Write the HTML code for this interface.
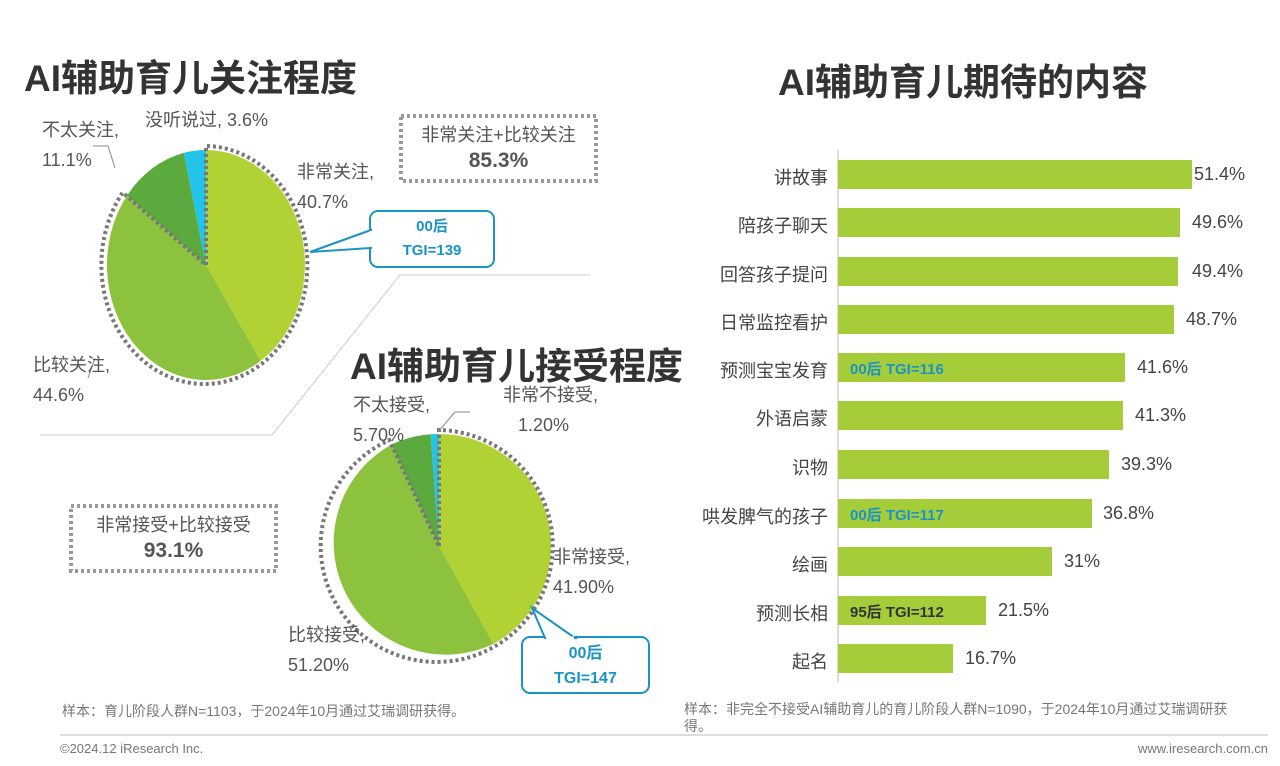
<!DOCTYPE html>
<html><head><meta charset="utf-8"><style>
body{margin:0;width:1280px;height:766px;background:#fff;position:relative;overflow:hidden;font-family:"Liberation Sans","Noto Sans CJK SC",sans-serif;color:#444}
.a{position:absolute;white-space:nowrap}
.t{font-size:37px;font-weight:bold;color:#333}
.l{font-size:18px;color:#555;line-height:30px}
.bar{position:absolute;left:838px;height:29px;background:#a5cd39}
.bl{position:absolute;right:452px;font-size:18px;color:#444;text-align:right}
.bv{position:absolute;font-size:18px;color:#444}
.tg{position:absolute;left:850px;font-size:15px;font-weight:bold}
</style></head><body>
<div class="a t" style="left:24px;top:48px">AI辅助育儿关注程度</div>
<div class="a t" style="left:778px;top:52px">AI辅助育儿期待的内容</div>
<div class="a t" style="left:350px;top:336px;z-index:2">AI辅助育儿接受程度</div>

<svg class="a" style="left:0;top:0" width="1280" height="766">
<polyline points="40,435 272,435 400,275 590,275" fill="none" stroke="#ccc" stroke-width="1"/>
<path d="M206,265 L206,150 A99,115 0 0,1 260.6,360.9Z" fill="#b1d235"/>
<path d="M206,265 L260.6,360.9 A99,115 0 0,1 127.1,195.5Z" fill="#8dc23e"/>
<path d="M206,265 L127.1,195.5 A99,115 0 0,1 183.8,152.9Z" fill="#5caa3e"/>
<path d="M206,265 L183.8,152.9 A99,115 0 0,1 206,150Z" fill="#22c4ea"/>
<path d="M206,265 L206,146 A103,119 0 1,1 122.7,192.5 L206,265" fill="none" stroke="#777" stroke-width="4" stroke-dasharray="3,3"/>
<path d="M439,546 L439,434 A112,112 0 0,1 493.5,643.9Z" fill="#b1d235"/>
<path d="M439,546 L493.5,643.9 A112,112 0 0,1 391.5,444.6Z" fill="#8dc23e"/>
<path d="M439,546 L391.5,444.6 A112,112 0 0,1 430.6,434.3Z" fill="#5caa3e"/>
<path d="M439,546 L430.6,434.3 A112,112 0 0,1 439,434Z" fill="#22c4ea"/>
<path d="M439,546 L439,430 A116,116 0 1,1 389.3,440.1 L439,546" fill="none" stroke="#777" stroke-width="4" stroke-dasharray="3,3"/>
<polyline points="93,146 108,146 115,168" fill="none" stroke="#888"/>
<polyline points="88,378 95,358" fill="none" stroke="#888"/>
<polyline points="438,432 455,412 470,412" fill="none" stroke="#888"/>
<rect x="401" y="116" width="195" height="65" fill="none" stroke="#999" stroke-width="4" stroke-dasharray="3,3"/>
<rect x="71" y="506" width="205" height="65" fill="none" stroke="#999" stroke-width="4" stroke-dasharray="3,3"/>
<rect x="370" y="211" width="124" height="56" rx="8" fill="#fff" stroke="#1a93c6" stroke-width="2"/>
<polygon points="371,230 310,252 371,248" fill="#fff" stroke="#1a93c6" stroke-width="2"/>
<line x1="371" y1="231" x2="371" y2="247" stroke="#fff" stroke-width="3"/>
<rect x="522" y="637" width="127" height="56" rx="8" fill="#fff" stroke="#1a93c6" stroke-width="2"/>
<polygon points="545,638 532,608 575,638" fill="#fff" stroke="#1a93c6" stroke-width="2"/>
<line x1="546" y1="638" x2="574" y2="638" stroke="#fff" stroke-width="3"/>
<line x1="838" y1="150" x2="838" y2="682" stroke="#bbb"/>
<line x1="60" y1="735" x2="1268" y2="735" stroke="#bbb"/>
</svg>

<div class="a l" style="left:145px;top:105px">没听说过, 3.6%</div>
<div class="a l" style="left:42px;top:115px">不太关注,<br>11.1%</div>
<div class="a l" style="left:297px;top:157px">非常关注,<br>40.7%</div>
<div class="a l" style="left:33px;top:350px">比较关注,<br>44.6%</div>
<div class="a" style="left:401px;top:122px;width:195px;text-align:center;font-size:18px;color:#555;line-height:26px">非常关注+比较关注<br><b style="font-size:21px">85.3%</b></div>
<div class="a" style="left:370px;top:215px;width:124px;text-align:center;font-size:15px;font-weight:bold;color:#1a93c6;line-height:24px">00后<br>TGI=139</div>

<div class="a l" style="left:353px;top:390px">不太接受,<br>5.70%</div>
<div class="a l" style="left:503px;top:380px">非常不接受,<br>&nbsp;&nbsp;&nbsp;1.20%</div>
<div class="a l" style="left:553px;top:542px">非常接受,<br>41.90%</div>
<div class="a l" style="left:288px;top:620px">比较接受,<br>51.20%</div>
<div class="a" style="left:71px;top:512px;width:205px;text-align:center;font-size:18px;color:#555;line-height:26px">非常接受+比较接受<br><b style="font-size:21px">93.1%</b></div>
<div class="a" style="left:522px;top:641px;width:127px;text-align:center;font-size:16px;font-weight:bold;color:#1a93c6;line-height:25px">00后<br>TGI=147</div>

<div class="bar" style="top:160px;width:354px"></div><div class="bl" style="top:164px">讲故事</div><div class="bv" style="left:1194px;top:164px">51.4%</div>
<div class="bar" style="top:208px;width:342px"></div><div class="bl" style="top:212px">陪孩子聊天</div><div class="bv" style="left:1192px;top:212px">49.6%</div>
<div class="bar" style="top:257px;width:340px"></div><div class="bl" style="top:261px">回答孩子提问</div><div class="bv" style="left:1192px;top:261px">49.4%</div>
<div class="bar" style="top:305px;width:336px"></div><div class="bl" style="top:309px">日常监控看护</div><div class="bv" style="left:1186px;top:309px">48.7%</div>
<div class="bar" style="top:353px;width:287px"></div><div class="bl" style="top:357px">预测宝宝发育</div><div class="bv" style="left:1137px;top:357px">41.6%</div><div class="tg" style="top:358px;color:#1a93c6">00后 TGI=116</div>
<div class="bar" style="top:401px;width:285px"></div><div class="bl" style="top:405px">外语启蒙</div><div class="bv" style="left:1135px;top:405px">41.3%</div>
<div class="bar" style="top:450px;width:271px"></div><div class="bl" style="top:454px">识物</div><div class="bv" style="left:1121px;top:454px">39.3%</div>
<div class="bar" style="top:499px;width:254px"></div><div class="bl" style="top:503px">哄发脾气的孩子</div><div class="bv" style="left:1103px;top:503px">36.8%</div><div class="tg" style="top:504px;color:#1a93c6">00后 TGI=117</div>
<div class="bar" style="top:547px;width:214px"></div><div class="bl" style="top:551px">绘画</div><div class="bv" style="left:1064px;top:551px">31%</div>
<div class="bar" style="top:596px;width:148px"></div><div class="bl" style="top:600px">预测长相</div><div class="bv" style="left:998px;top:600px">21.5%</div><div class="tg" style="top:601px;color:#333">95后 TGI=112</div>
<div class="bar" style="top:644px;width:115px"></div><div class="bl" style="top:648px">起名</div><div class="bv" style="left:965px;top:648px">16.7%</div>

<div class="a" style="left:62px;top:701px;font-size:14px;color:#777">样本：育儿阶段人群N=1103，于2024年10月通过艾瑞调研获得。</div>
<div class="a" style="left:684px;top:701px;font-size:14px;color:#777;white-space:normal;width:556px;line-height:17px">样本：非完全不接受AI辅助育儿的育儿阶段人群N=1090，于2024年10月通过艾瑞调研获得。</div>
<div class="a" style="left:60px;top:741px;font-size:13px;color:#777">©2024.12 iResearch Inc.</div>
<div class="a" style="right:12px;top:741px;font-size:13px;color:#777">www.iresearch.com.cn</div>
</body></html>
